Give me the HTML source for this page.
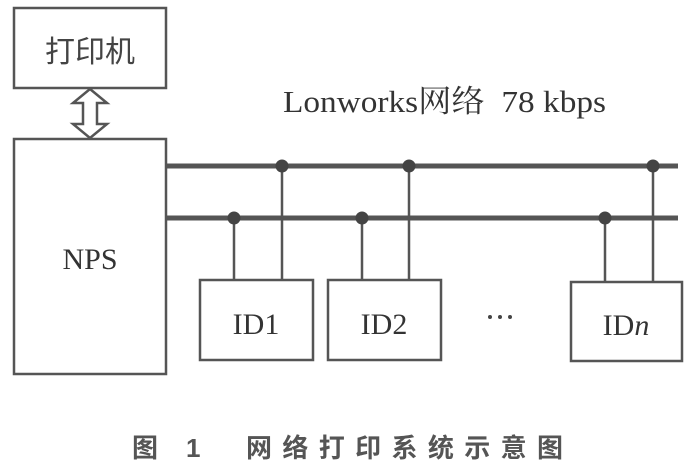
<!DOCTYPE html>
<html><head><meta charset="utf-8"><style>
html,body{margin:0;padding:0;background:#fff;width:693px;height:475px;overflow:hidden}
</style></head><body>
<svg width="693" height="475" viewBox="0 0 693 475" xmlns="http://www.w3.org/2000/svg">
<g fill="none" stroke="#555" stroke-width="2.5">
<rect x="14" y="8" width="152" height="80"/>
<rect x="14" y="139" width="152" height="235"/>
<rect x="200" y="280" width="113" height="80"/>
<rect x="328" y="280" width="113" height="80"/>
<rect x="571" y="282" width="111" height="79"/>
</g>
<path d="M90 89 L107 103 L97 103 L97 124 L107 124 L90 138 L73 124 L83 124 L83 103 L73 103 Z" fill="#fff" stroke="#555" stroke-width="2.5"/>
<g stroke="#555" stroke-width="5">
<line x1="166" y1="166" x2="678" y2="166"/>
<line x1="166" y1="218" x2="678" y2="218"/>
</g>
<g stroke="#555" stroke-width="2.5">
<line x1="282" y1="166" x2="282" y2="280"/>
<line x1="409" y1="166" x2="409" y2="280"/>
<line x1="653" y1="166" x2="653" y2="282"/>
<line x1="234" y1="218" x2="234" y2="280"/>
<line x1="362" y1="218" x2="362" y2="280"/>
<line x1="605" y1="218" x2="605" y2="282"/>
</g>
<g fill="#444">
<circle cx="282" cy="166" r="6.5"/><circle cx="409" cy="166" r="6.5"/><circle cx="653" cy="166" r="6.5"/>
<circle cx="234" cy="218" r="6.5"/><circle cx="362" cy="218" r="6.5"/><circle cx="605" cy="218" r="6.5"/>
<circle cx="490" cy="317" r="2"/><circle cx="500" cy="317" r="2"/><circle cx="510" cy="317" r="2"/>
</g>
<g fill="#333" font-family="'Liberation Serif','Noto Serif CJK SC',serif">
<text x="90" y="62" font-size="30" text-anchor="middle" font-family="'Liberation Sans','Noto Sans CJK SC',sans-serif" fill="#444">打印机</text>
<text x="90" y="269" font-size="30" text-anchor="middle">NPS</text>
<text x="256" y="334" font-size="30" text-anchor="middle">ID1</text>
<text x="384" y="334" font-size="30" text-anchor="middle">ID2</text>
<text x="626" y="335" font-size="30" text-anchor="middle">ID<tspan font-style="italic">n</tspan></text>
<text x="283" y="112" font-size="31" textLength="323" lengthAdjust="spacingAndGlyphs" xml:space="preserve">Lonworks网络  78 kbps</text>
</g>
<text x="132" y="457" font-size="26" font-weight="bold" fill="#555" font-family="'Liberation Sans','Noto Sans CJK SC',sans-serif" textLength="431" lengthAdjust="spacing" xml:space="preserve">图 1  网络打印系统示意图</text>
</svg>
</body></html>
